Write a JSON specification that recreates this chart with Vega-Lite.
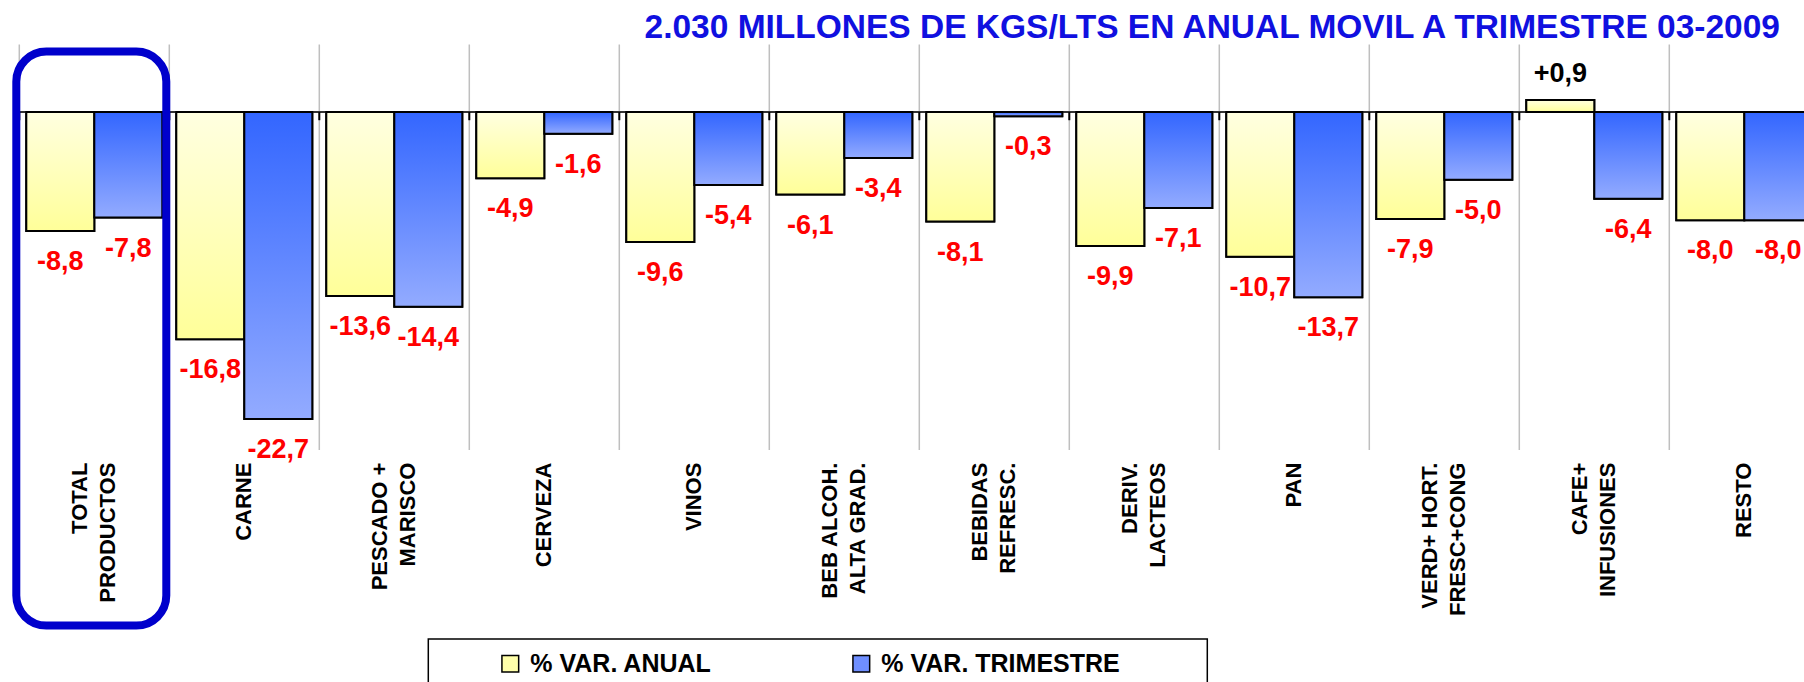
{
  "$schema": "https://vega.github.io/schema/vega-lite/v6.json",
  "width": 1784.7,
  "height": 405.6,
  "autosize": {"type": "none"},
  "padding": {"left": 19.3, "top": 44.5, "right": 0, "bottom": 231.9},
  "background": "white",
  "title": {
    "text": "2.030 MILLONES DE KGS/LTS EN ANUAL MOVIL A TRIMESTRE 03-2009",
    "anchor": "end", "frame": "group", "orient": "top", "offset": 5, "dx": -24, "dy": 33,
    "baseline": "alphabetic", "font": "Liberation Sans", "fontSize": 33.5, "fontWeight": "bold", "color": "#1010E0"
  },
  "data": {
    "values": [
      {"cat": "TOTAL\u00a0\u00a0\u00a0\u00a0\u00a0\u00a0|PRODUCTOS", "serie": "% VAR. ANUAL", "val": -8.8},
      {"cat": "TOTAL\u00a0\u00a0\u00a0\u00a0\u00a0\u00a0|PRODUCTOS", "serie": "% VAR. TRIMESTRE", "val": -7.8},
      {"cat": "CARNE", "serie": "% VAR. ANUAL", "val": -16.8},
      {"cat": "CARNE", "serie": "% VAR. TRIMESTRE", "val": -22.7},
      {"cat": "PESCADO +|MARISCO\u00a0\u00a0", "serie": "% VAR. ANUAL", "val": -13.6},
      {"cat": "PESCADO +|MARISCO\u00a0\u00a0", "serie": "% VAR. TRIMESTRE", "val": -14.4},
      {"cat": "CERVEZA", "serie": "% VAR. ANUAL", "val": -4.9},
      {"cat": "CERVEZA", "serie": "% VAR. TRIMESTRE", "val": -1.6},
      {"cat": "VINOS", "serie": "% VAR. ANUAL", "val": -9.6},
      {"cat": "VINOS", "serie": "% VAR. TRIMESTRE", "val": -5.4},
      {"cat": "BEB ALCOH.|ALTA GRAD.", "serie": "% VAR. ANUAL", "val": -6.1},
      {"cat": "BEB ALCOH.|ALTA GRAD.", "serie": "% VAR. TRIMESTRE", "val": -3.4},
      {"cat": "BEBIDAS\u00a0|REFRESC.", "serie": "% VAR. ANUAL", "val": -8.1},
      {"cat": "BEBIDAS\u00a0|REFRESC.", "serie": "% VAR. TRIMESTRE", "val": -0.3},
      {"cat": "DERIV.\u00a0\u00a0\u00a0|LACTEOS", "serie": "% VAR. ANUAL", "val": -9.9},
      {"cat": "DERIV.\u00a0\u00a0\u00a0|LACTEOS", "serie": "% VAR. TRIMESTRE", "val": -7.1},
      {"cat": "PAN", "serie": "% VAR. ANUAL", "val": -10.7},
      {"cat": "PAN", "serie": "% VAR. TRIMESTRE", "val": -13.7},
      {"cat": "VERD+ HORT.|FRESC+CONG", "serie": "% VAR. ANUAL", "val": -7.9},
      {"cat": "VERD+ HORT.|FRESC+CONG", "serie": "% VAR. TRIMESTRE", "val": -5.0},
      {"cat": "CAFE+\u00a0\u00a0\u00a0\u00a0\u00a0|INFUSIONES", "serie": "% VAR. ANUAL", "val": 0.9},
      {"cat": "CAFE+\u00a0\u00a0\u00a0\u00a0\u00a0|INFUSIONES", "serie": "% VAR. TRIMESTRE", "val": -6.4},
      {"cat": "RESTO", "serie": "% VAR. ANUAL", "val": -8.0},
      {"cat": "RESTO", "serie": "% VAR. TRIMESTRE", "val": -8.0}
    ]
  },
  "layer": [
    {
      "mark": {"type": "bar", "stroke": "#000000", "strokeWidth": 2},
      "encoding": {
        "x": {"field": "cat", "type": "nominal", "sort": null,
              "scale": {"domain": ["TOTAL\u00a0\u00a0\u00a0\u00a0\u00a0\u00a0|PRODUCTOS","CARNE","PESCADO +|MARISCO\u00a0\u00a0","CERVEZA","VINOS","BEB ALCOH.|ALTA GRAD.","BEBIDAS\u00a0|REFRESC.","DERIV.\u00a0\u00a0\u00a0|LACTEOS","PAN","VERD+ HORT.|FRESC+CONG","CAFE+\u00a0\u00a0\u00a0\u00a0\u00a0|INFUSIONES","RESTO"], "range": [0, 1800], "paddingInner": 0, "paddingOuter": 0},
              "axis": {"orient": "bottom", "title": null, "domain": false, "ticks": false, "grid": false, "labelAngle": -90, "labelAlign": "right", "labelBaseline": "middle", "labelPadding": 12, "labelOffset": {"condition": {"test": "indexof(datum.value, '|') >= 0", "value": -14}, "value": 0}, "labelFont": "Liberation Sans", "labelFontWeight": "bold", "labelFontSize": 22, "labelColor": "#000000", "labelLimit": 400, "labelLineHeight": 28, "labelExpr": "split(datum.label, '|')", "labelOverlap": false, "labelBound": false, "labelFlush": false}},
        "xOffset": {"field": "serie", "type": "nominal", "sort": null, "scale": {"domain": ["% VAR. ANUAL", "% VAR. TRIMESTRE"], "paddingInner": 0, "paddingOuter": 0.103}},
        "y": {"field": "val", "type": "quantitative", "axis": null, "scale": {"domain": [-25, 5], "nice": false, "zero": false}},
        "color": {"field": "serie", "type": "nominal",
                  "scale": {"domain": ["% VAR. ANUAL", "% VAR. TRIMESTRE"], "range": ["#FFFFAA", "#6F8FFF"]},
                  "legend": {"orient": "none", "legendX": 409, "legendY": 594.5, "direction": "horizontal", "columns": 2, "columnPadding": 79, "padding": 12, "title": "\u00a0", "titleOrient": "right", "titlePadding": 76, "strokeColor": "#000000", "fillColor": "#FFFFFF", "symbolType": "square", "symbolSize": 280, "symbolStrokeColor": "#000000", "symbolStrokeWidth": 1.5, "symbolOffset": 57.5, "labelOffset": 7.5, "labelFont": "Liberation Sans", "labelFontWeight": "bold", "labelFontSize": 25, "labelColor": "#000000", "labelLimit": 500}}
      }
    },
    {
      "transform": [{"filter": "datum.serie === '% VAR. ANUAL'"}],
      "mark": {"type": "rule", "color": "#BFBFBF", "strokeWidth": 1.5},
      "encoding": {
        "x": {"field": "cat", "type": "nominal", "bandPosition": 0, "sort": null},
        "y": {"datum": 5, "type": "quantitative"},
        "y2": {"datum": -25}
      }
    },
    {
      "data": {"values": [{}]},
      "mark": {"type": "rule", "color": "#333333", "strokeWidth": 2},
      "encoding": {
        "y": {"datum": 0, "type": "quantitative"}
      }
    },
    {
      "transform": [{"filter": "datum.serie === '% VAR. ANUAL'"}],
      "mark": {"type": "rule", "color": "#000000", "strokeWidth": 2},
      "encoding": {
        "x": {"field": "cat", "type": "nominal", "bandPosition": 0, "sort": null},
        "y": {"datum": 0, "type": "quantitative"},
        "y2": {"datum": -0.6}
      }
    },
    {
      "transform": [{"filter": "datum.serie === '% VAR. ANUAL'"}],
      "mark": {"type": "bar", "stroke": "#000000", "strokeWidth": 2,
               "fill": {"gradient": "linear", "x1": 0, "y1": 0, "x2": 0, "y2": 1, "stops": [{"offset": 0, "color": "#FFFFE0"}, {"offset": 1, "color": "#FFFF99"}]}},
      "encoding": {
        "x": {"field": "cat", "type": "nominal", "sort": null},
        "xOffset": {"field": "serie", "type": "nominal", "sort": null},
        "y": {"field": "val", "type": "quantitative"}
      }
    },
    {
      "transform": [{"filter": "datum.serie === '% VAR. TRIMESTRE'"}],
      "mark": {"type": "bar", "stroke": "#000000", "strokeWidth": 2,
               "fill": {"gradient": "linear", "x1": 0, "y1": 0, "x2": 0, "y2": 1, "stops": [{"offset": 0, "color": "#3366FF"}, {"offset": 1, "color": "#93ABFF"}]}},
      "encoding": {
        "x": {"field": "cat", "type": "nominal", "sort": null},
        "xOffset": {"field": "serie", "type": "nominal", "sort": null},
        "y": {"field": "val", "type": "quantitative"}
      }
    },
    {
      "transform": [{"filter": "datum.val < 0"}],
      "mark": {"type": "text", "baseline": "top", "align": "center", "dy": 18, "font": "Liberation Sans", "fontWeight": "bold", "fontSize": 27, "color": "#FF0000"},
      "encoding": {
        "x": {"field": "cat", "type": "nominal", "sort": null},
        "xOffset": {"field": "serie", "type": "nominal", "sort": null},
        "y": {"field": "val", "type": "quantitative"},
        "text": {"field": "val", "type": "quantitative", "format": "+.1f"}
      }
    },
    {
      "transform": [{"filter": "datum.val >= 0"}],
      "mark": {"type": "text", "baseline": "alphabetic", "align": "center", "dy": -18, "font": "Liberation Sans", "fontWeight": "bold", "fontSize": 27, "color": "#000000"},
      "encoding": {
        "x": {"field": "cat", "type": "nominal", "sort": null},
        "xOffset": {"field": "serie", "type": "nominal", "sort": null},
        "y": {"field": "val", "type": "quantitative"},
        "text": {"field": "val", "type": "quantitative", "format": "+.1f"}
      }
    },
    {
      "data": {"values": [{}]},
      "mark": {"type": "rect", "cornerRadius": 30, "stroke": "#0000CC", "strokeWidth": 8, "fill": null, "xOffset": -3},
      "encoding": {
        "x": {"datum": "TOTAL\u00a0\u00a0\u00a0\u00a0\u00a0\u00a0|PRODUCTOS", "type": "nominal"},
        "y": {"datum": 4.48, "type": "quantitative"},
        "y2": {"datum": -37.98}
      }
    }
  ],
  "config": {
    "view": {"stroke": null},
    "font": "Liberation Sans",
    "locale": {"number": {"decimal": ",", "thousands": ".", "grouping": [3], "currency": ["", " €"], "minus": "-"}},
    "legend": {"strokeWidth": 1.5}
  }
}
